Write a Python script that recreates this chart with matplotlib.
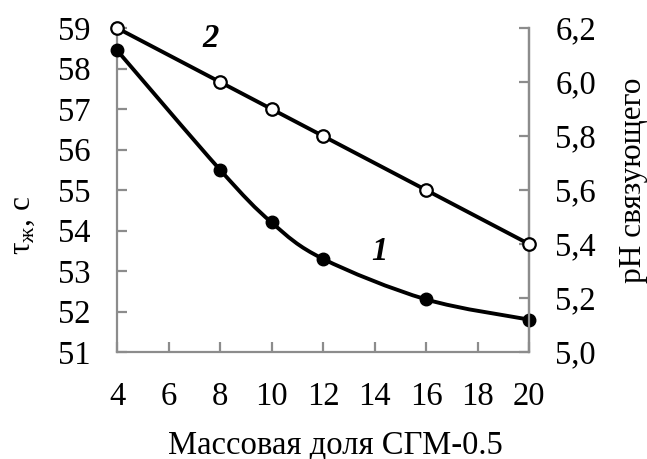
import matplotlib
matplotlib.use("Agg")
import matplotlib.pyplot as plt
from matplotlib.path import Path
from matplotlib.patches import PathPatch
import numpy as np

plt.rcParams["font.family"] = ["Liberation Serif", "DejaVu Serif"]
plt.rcParams["mathtext.fontset"] = "custom"
plt.rcParams["mathtext.rm"] = "Liberation Serif"
plt.rcParams["mathtext.it"] = "Liberation Serif:italic"

# data
mass_share = [4, 8, 10, 12, 16, 20]
tau = [58.45, 55.5, 54.2, 53.3, 52.3, 51.8]     # curve 1, left axis
ph = [6.2, 6.0, 5.9, 5.8, 5.6, 5.4]             # curve 2, right axis

x_ticks = [4, 6, 8, 10, 12, 14, 16, 18, 20]
left_ticks = [51, 52, 53, 54, 55, 56, 57, 58, 59]
right_ticks = [5.0, 5.2, 5.4, 5.6, 5.8, 6.0, 6.2]

GREY = "#8c8c8c"
FS = 23.5


def smooth_path(xs, ys):
    # Excel-like smoothed line: cubic Bezier segments through the points
    p = np.column_stack([xs, ys]).astype(float)
    ext = np.vstack([p[0], p, p[-1]])
    verts = [p[0]]
    codes = [Path.MOVETO]
    for i in range(len(p) - 1):
        p0, p1, p2, p3 = ext[i], ext[i + 1], ext[i + 2], ext[i + 3]
        verts += [p1 + (p2 - p0) / 6, p2 - (p3 - p1) / 6, p2]
        codes += [Path.CURVE4] * 3
    return Path(verts, codes)


fig = plt.figure(figsize=(6.47, 4.59), dpi=100)
ax = fig.add_axes([117 / 647, 1 - 352 / 459, 412 / 647, 324 / 459])
ax2 = ax.twinx()

ax.add_patch(PathPatch(smooth_path(mass_share, tau), fill=False, lw=2.8,
                       edgecolor="black", zorder=3))
ax.plot(mass_share, tau, "o", color="black", ms=9, zorder=4, clip_on=False)

ax2.plot(mass_share, ph, "-o", color="black", lw=2.8, ms=9,
         mfc="white", mec="black", mew=1.6, zorder=4, clip_on=False)

ax.set_xlim(4, 20)
ax.set_ylim(51, 59)
ax2.set_ylim(5.0, 6.2)
ax.set_xticks(x_ticks)
ax.set_yticks(left_ticks)
ax2.set_yticks(right_ticks)
ax2.set_yticklabels([f"{v:.1f}".replace(".", ",") for v in right_ticks])

for a in (ax, ax2):
    a.spines["top"].set_visible(False)
    for s in ("left", "right", "bottom"):
        a.spines[s].set_color(GREY)
        a.spines[s].set_linewidth(1.6)
    a.tick_params(direction="in", length=7, width=1.6, color=GREY,
                  labelsize=FS, pad=19)
ax.tick_params(axis="x", pad=21)
ax2.spines["left"].set_visible(False)
ax2.spines["bottom"].set_visible(False)

ax.set_xlabel("Массовая доля СГМ-0.5", fontsize=FS)
ax.xaxis.set_label_coords(0.53, -0.24)
ax.set_ylabel(r"τ$_\mathrm{ж}$, с", fontsize=22.5)
ax.yaxis.set_label_coords(-0.195, 0.39)
ax2.set_ylabel("pH связующего", fontsize=22.5)
ax2.yaxis.set_label_coords(1.218, 0.53)

ax.text(7.65, 58.75, "2", fontsize=FS, fontweight="bold", fontstyle="italic",
        ha="center", va="center")
ax.text(14.2, 53.47, "1", fontsize=FS, fontweight="bold", fontstyle="italic",
        ha="center", va="center")

fig.savefig("out.png", dpi=100)
